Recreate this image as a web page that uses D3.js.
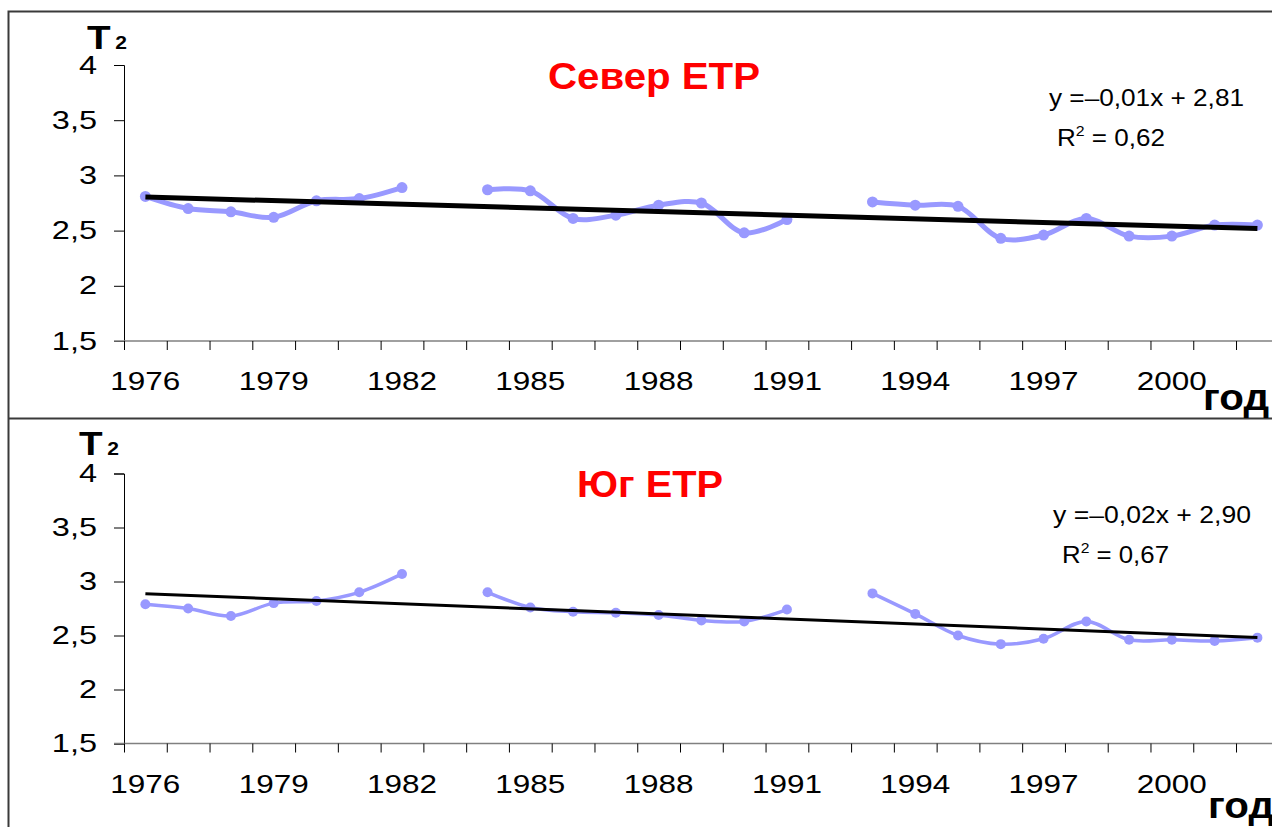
<!DOCTYPE html>
<html>
<head>
<meta charset="utf-8">
<script src="https://cdn.jsdelivr.net/npm/d3@7/dist/d3.min.js"></script>
<style>
  body { margin: 0; background: #fff; }
  text { font-family: "Liberation Sans", Arial, sans-serif; }
</style>
</head>
<body>
<svg id="chart" width="1272" height="827"></svg>
<script>
// categories and values, null = no data
var years = [1976, 1977, 1978, 1979, 1980, 1981, 1982, 1983, 1984, 1985, 1986, 1987, 1988, 1989,
             1990, 1991, 1992, 1993, 1994, 1995, 1996, 1997, 1998, 1999, 2000, 2001, 2002];
var northValues = [2.81, 2.70, 2.67, 2.62, 2.77, 2.79, 2.89, null, 2.87, 2.86, 2.61, 2.64, 2.73, 2.75,
                   2.48, 2.60, null, 2.76, 2.73, 2.72, 2.43, 2.46, 2.61, 2.45, 2.45, 2.55, 2.55];
var southValues = [2.79, 2.75, 2.68, 2.80, 2.82, 2.90, 3.07, null, 2.90, 2.76, 2.72, 2.71, 2.69, 2.64,
                   2.63, 2.74, null, 2.89, 2.70, 2.50, 2.42, 2.47, 2.63, 2.46, 2.46, 2.45, 2.48];
var yTicks = [1.5, 2, 2.5, 3, 3.5, 4];
var xTickLabels = [1976, 1979, 1982, 1985, 1988, 1991, 1994, 1997, 2000];
var titles = ["Север ЕТР", "Юг ЕТР"];
var equations = ["y =\u20130,01x + 2,81", "y =\u20130,02x + 2,90"];
var rSquared = ["0,62", "0,67"];

var svg = d3.select("#chart");

// frames round the two panels
var frameColor = "#3a3a3a";
svg.append("path")
  .attr("d", "M1280,11.5 H8.5 V418.5 H1280 M8.5,418.5 V830")
  .attr("fill", "none")
  .attr("stroke", frameColor)
  .attr("stroke-width", 2);

var panels = [
  { values: northValues, top: 65, bottom: 341, lineW: 5, dotR: 5.5, trendW: 5,
    title: titles[0], titleX: 654, titleY: 89, titleLen: 212,
    eq: equations[0], eqX: 1049, eqY: 106, eqLen: 195,
    r2: rSquared[0], r2X: 1057, r2Y: 146, r2Len: 108,
    tX: 87, tY: 49, godX: 1203, godY: 410 },
  { values: southValues, top: 473.5, bottom: 743.5, lineW: 3.5, dotR: 5, trendW: 3,
    title: titles[1], titleX: 650, titleY: 497, titleLen: 146,
    eq: equations[1], eqX: 1053, eqY: 523, eqLen: 198,
    r2: rSquared[1], r2X: 1062, r2Y: 563, r2Len: 107,
    tX: 79, tY: 455, godX: 1208, godY: 818 }
];

var x0 = 124, bandW = 42.77;

function stretch(sel, sx) {
  sel.each(function() {
    var w = this.getComputedTextLength();
    this.setAttribute("textLength", w * sx);
    this.setAttribute("lengthAdjust", "spacingAndGlyphs");
  });
}

function fixLength(sel, len) {
  sel.attr("textLength", len).attr("lengthAdjust", "spacingAndGlyphs");
}

panels.forEach(function(p) {
  var g = svg.append("g");

  var x = d3.scaleBand()
    .domain(years)
    .range([x0, x0 + bandW * years.length]);

  var y = d3.scaleLinear()
    .domain([1.5, 4])
    .range([p.bottom, p.top]);

  // y axis
  var yAxis = g.append("g")
    .attr("transform", "translate(" + x0 + ",0)")
    .call(d3.axisLeft(y).tickValues(yTicks).tickSize(10).tickPadding(17)
      .tickFormat(function(d) { return String(d).replace(".", ","); }));
  yAxis.select(".domain").attr("stroke", "#000").attr("stroke-width", 1);
  yAxis.selectAll(".tick line").attr("stroke", "#000");
  yAxis.selectAll("text")
    .attr("font-size", 25)
    .attr("fill", "#000")
    .attr("font-family", "Liberation Sans, Arial, sans-serif")
    .call(stretch, 1.3);

  // x axis: ticks between categories, labels every third year
  var xg = g.append("g").attr("transform", "translate(0," + p.bottom + ")");
  xg.append("line")
    .attr("x1", x0 - 10).attr("x2", x0 + bandW * years.length)
    .attr("stroke", "#808080").attr("stroke-width", 1.5);
  xg.selectAll("line.tk")
    .data(years)
    .join("line")
    .attr("class", "tk")
    .attr("x1", function(d) { return x(d) + 0.5; })
    .attr("x2", function(d) { return x(d) + 0.5; })
    .attr("y1", 0).attr("y2", 9)
    .attr("stroke", "#000");
  xg.selectAll("text")
    .data(xTickLabels)
    .join("text")
    .attr("x", function(d) { return x(d) + x.bandwidth() / 2; })
    .attr("y", 49)
    .attr("text-anchor", "middle")
    .attr("font-size", 26)
    .text(function(d) { return d; })
    .call(fixLength, 70);

  var pts = years.map(function(yr, i) { return { year: yr, v: p.values[i], i: i + 1 }; });
  var defined = pts.filter(function(d) { return d.v != null; });

  // series (smoothed line with gaps)
  var line = d3.line()
    .defined(function(d) { return d.v != null; })
    .x(function(d) { return x(d.year) + x.bandwidth() / 2; })
    .y(function(d) { return y(d.v); })
    .curve(d3.curveCatmullRom);

  g.append("path")
    .datum(pts)
    .attr("d", line)
    .attr("fill", "none")
    .attr("stroke", "#9999ff")
    .attr("stroke-width", p.lineW)
    .attr("stroke-linejoin", "round");

  g.selectAll("circle")
    .data(defined)
    .join("circle")
    .attr("cx", function(d) { return x(d.year) + x.bandwidth() / 2; })
    .attr("cy", function(d) { return y(d.v); })
    .attr("r", p.dotR)
    .attr("fill", "#9999ff");

  // linear trend (least squares on category index)
  var mx = d3.mean(defined, function(d) { return d.i; });
  var my = d3.mean(defined, function(d) { return d.v; });
  var slope = d3.sum(defined, function(d) { return (d.i - mx) * (d.v - my); }) /
              d3.sum(defined, function(d) { return (d.i - mx) * (d.i - mx); });
  var icpt = my - slope * mx;
  var ends = [pts[0], pts[pts.length - 1]];
  g.append("line")
    .attr("x1", x(ends[0].year) + x.bandwidth() / 2)
    .attr("y1", y(icpt + slope * ends[0].i))
    .attr("x2", x(ends[1].year) + x.bandwidth() / 2)
    .attr("y2", y(icpt + slope * ends[1].i))
    .attr("stroke", "#000")
    .attr("stroke-width", p.trendW);

  // titles and labels
  g.append("text")
    .attr("x", p.titleX).attr("y", p.titleY)
    .attr("text-anchor", "middle")
    .attr("font-size", 36).attr("font-weight", "bold")
    .attr("fill", "#ff0000")
    .text(p.title)
    .call(fixLength, p.titleLen);

  g.append("text")
    .attr("x", p.eqX).attr("y", p.eqY)
    .attr("font-size", 23)
    .text(p.eq)
    .call(fixLength, p.eqLen);

  var r2 = g.append("text")
    .attr("x", p.r2X).attr("y", p.r2Y)
    .attr("font-size", 23);
  r2.append("tspan").text("R");
  r2.append("tspan").attr("font-size", 14).attr("dy", -10).text("2");
  r2.append("tspan").attr("dy", 10).text(" = " + p.r2);
  r2.call(fixLength, p.r2Len);

  var t = g.append("text")
    .attr("x", p.tX).attr("y", p.tY)
    .attr("font-weight", "bold");
  t.append("tspan").attr("font-size", 33).text("T");
  t.append("tspan").attr("font-size", 18).attr("dx", 4).text("2");
  t.call(fixLength, 40);

  g.append("text")
    .attr("x", p.godX).attr("y", p.godY)
    .attr("font-size", 36).attr("font-weight", "bold")
    .text("год")
    .call(fixLength, 66);
});
</script>
</body>
</html>
